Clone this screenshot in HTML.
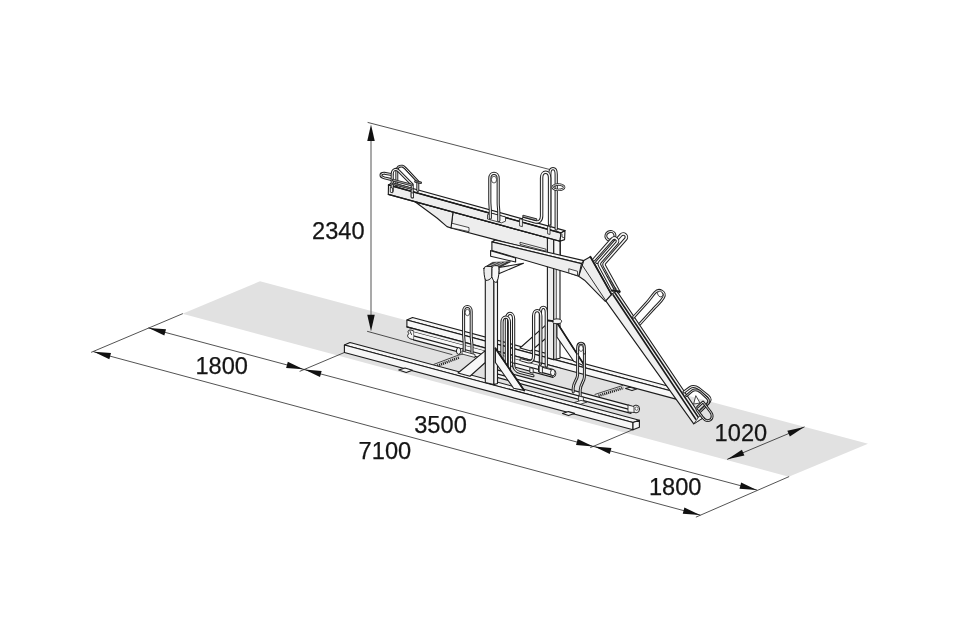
<!DOCTYPE html>
<html><head><meta charset="utf-8"><title>Bike rack dimensions</title>
<style>
html,body{margin:0;padding:0;background:#fff;}
body{width:960px;height:640px;overflow:hidden;}
svg{display:block;font-family:"Liberation Sans",sans-serif;will-change:transform;}
</style></head><body>
<svg width="960" height="640" viewBox="0 0 960 640">
<rect x="0" y="0" width="960" height="640" fill="#ffffff"/>
<polygon points="260.00,281.25 868.00,443.75 788.75,476.75 182.50,313.75" fill="#e1e1e1" stroke="none" stroke-width="0" stroke-linejoin="round" />
<polygon points="412.50,317.50 676.00,388.25 676.00,392.25 406.90,320.00" fill="#f7f7f7" stroke="#1c1c1c" stroke-width="1.12" stroke-linejoin="round" />
<polygon points="406.90,320.00 676.00,392.25 676.00,399.15 406.90,326.90" fill="#f7f7f7" stroke="#1c1c1c" stroke-width="1.12" stroke-linejoin="round" />
<polygon points="625.60,388.60 630.00,387.20 636.50,389.00 632.00,390.60" fill="#f7f7f7" stroke="#1c1c1c" stroke-width="1.1" stroke-linejoin="round" />
<polygon points="413.50,331.38 553.00,368.84 553.00,377.34 413.50,339.88" fill="#f7f7f7" stroke="#1c1c1c" stroke-width="1.12" stroke-linejoin="round" />
<line x1="413.50" y1="335.88" x2="553.00" y2="373.34" stroke="#1c1c1c" stroke-width="1.12" stroke-linecap="round" />
<polygon points="413.50,328.67 560.00,368.01 560.00,370.72 413.50,331.38" fill="#f0f0f0" stroke="none" stroke-width="0" stroke-linejoin="round" />
<line x1="406.90" y1="326.90" x2="560.00" y2="368.01" stroke="#1c1c1c" stroke-width="1.12" stroke-linecap="round" />
<path d="M413.5,331 C409,328.5 406.5,331 409,333.5 C406.5,335 407,339 413.5,339.6" fill="#f7f7f7" stroke="#1c1c1c" stroke-width="1.0" stroke-linejoin="round" stroke-linecap="round" />
<path d="M410.2,331.5 L411.5,334.5" fill="none" stroke="#1c1c1c" stroke-width="0.9" stroke-linejoin="round" stroke-linecap="round" />
<ellipse cx="553.3" cy="373.4" rx="2.6" ry="3.6" fill="#f7f7f7" stroke="#222" stroke-width="0.9"/>
<line x1="433.75" y1="364.40" x2="458.75" y2="355.00" stroke="#1c1c1c" stroke-width="0.8" stroke-linecap="round" />
<line x1="437.25" y1="365.80" x2="459.75" y2="357.30" stroke="#1e1e1e" stroke-width="2.6" stroke-dasharray="1.1 0.9"/>
<line x1="595.00" y1="394.40" x2="622.50" y2="385.60" stroke="#1c1c1c" stroke-width="0.8" stroke-linecap="round" />
<line x1="598.50" y1="395.80" x2="623.50" y2="387.90" stroke="#1e1e1e" stroke-width="2.6" stroke-dasharray="1.1 0.9"/>
<polygon points="547.40,238.00 553.75,238.00 553.75,359.60 547.40,357.90" fill="#ededed" stroke="#1c1c1c" stroke-width="1.12" stroke-linejoin="round" />
<polygon points="553.75,238.00 560.00,238.00 560.00,358.20 553.75,359.60" fill="#f7f7f7" stroke="#1c1c1c" stroke-width="1.12" stroke-linejoin="round" />
<line x1="556.25" y1="238.00" x2="556.25" y2="359.00" stroke="#1c1c1c" stroke-width="0.8" stroke-linecap="round" />
<polygon points="547.40,323.70 520.00,348.00 531.00,351.00 547.40,337.00" fill="#f7f7f7" stroke="#1c1c1c" stroke-width="1.12" stroke-linejoin="round" />
<polygon points="556.90,322.50 585.00,366.25 573.75,361.25 556.90,337.00" fill="#f7f7f7" stroke="#1c1c1c" stroke-width="1.12" stroke-linejoin="round" />
<line x1="556.90" y1="322.50" x2="585.00" y2="366.25" stroke="#1c1c1c" stroke-width="1.6" stroke-linecap="round" />
<polygon points="459.00,349.50 463.00,348.20 463.00,354.00 459.00,355.00" fill="#f7f7f7" stroke="#1c1c1c" stroke-width="0.8" stroke-linejoin="round" />
<path d="M464.2,351 L464.2,344 C464.2,340 463.6,338 463.6,334 L463.6,311.5 C463.6,304.8 471.2,304.8 471.2,311.5 L471.2,336 C471.2,340 472,342 472,346 L472,354" fill="none" stroke="#222222" stroke-width="3.0500000000000003" stroke-linejoin="round" stroke-linecap="round" />
<path d="M464.2,351 L464.2,344 C464.2,340 463.6,338 463.6,334 L463.6,311.5 C463.6,304.8 471.2,304.8 471.2,311.5 L471.2,336 C471.2,340 472,342 472,346 L472,354" fill="none" stroke="#f8f8f8" stroke-width="1.0100000000000002" stroke-linejoin="round" stroke-linecap="round" />
<ellipse cx="467.4" cy="312.5" rx="2.3" ry="3.2" fill="none" stroke="#333" stroke-width="0.8"/>
<polygon points="462.00,351.00 475.00,354.50 475.00,357.50 462.00,354.00" fill="#f7f7f7" stroke="#1c1c1c" stroke-width="0.8" stroke-linejoin="round" />
<ellipse cx="458.6" cy="351" rx="2.2" ry="3.3" fill="#f4f4f4" stroke="#222" stroke-width="1"/>
<path d="M546.3,366 L546.3,312.5 C546.3,305.6 540.4,305.6 540.4,312.5 L540.4,364" fill="none" stroke="#222222" stroke-width="3.25" stroke-linejoin="round" stroke-linecap="round" />
<path d="M546.3,366 L546.3,312.5 C546.3,305.6 540.4,305.6 540.4,312.5 L540.4,364" fill="none" stroke="#f8f8f8" stroke-width="1.21" stroke-linejoin="round" stroke-linecap="round" />
<path d="M540.8,362 L540.8,316 C540.8,308.8 533.6,308.8 533.6,316 L533.6,356 C533.6,361 531,362.5 527.5,361.6 L521,359.8" fill="none" stroke="#222222" stroke-width="3.25" stroke-linejoin="round" stroke-linecap="round" />
<path d="M540.8,362 L540.8,316 C540.8,308.8 533.6,308.8 533.6,316 L533.6,356 C533.6,361 531,362.5 527.5,361.6 L521,359.8" fill="none" stroke="#f8f8f8" stroke-width="1.21" stroke-linejoin="round" stroke-linecap="round" />
<ellipse cx="557" cy="321.3" rx="4.6" ry="2.4" fill="#f4f4f4" stroke="#2a2a2a" stroke-width="1"/>
<line x1="548.00" y1="320.50" x2="553.00" y2="321.20" stroke="#1c1c1c" stroke-width="1.8" stroke-linecap="round" />
<polygon points="497.00,369.89 631.00,405.87 631.00,413.37 497.00,377.39" fill="#f7f7f7" stroke="#1c1c1c" stroke-width="1.12" stroke-linejoin="round" />
<line x1="497.00" y1="373.89" x2="631.00" y2="409.87" stroke="#1c1c1c" stroke-width="1.12" stroke-linecap="round" />
<ellipse cx="636" cy="409" rx="3.6" ry="3.9" fill="#f4f4f4" stroke="#222" stroke-width="1"/>
<ellipse cx="636.6" cy="408.6" rx="1.5" ry="1.7" fill="#fff" stroke="#333" stroke-width="0.7"/>
<polygon points="628.00,405.00 634.00,406.60 634.00,412.50 628.00,412.00" fill="#f7f7f7" stroke="#1c1c1c" stroke-width="0.8" stroke-linejoin="round" />
<polygon points="538.60,366.20 552.60,370.00 552.60,375.40 538.60,371.60" fill="#f7f7f7" stroke="#1c1c1c" stroke-width="1.12" stroke-linejoin="round" />
<ellipse cx="552.8" cy="372.6" rx="2.3" ry="3.2" fill="#f7f7f7" stroke="#222" stroke-width="0.95"/>
<polygon points="529.80,367.60 533.20,368.50 533.20,373.20 529.80,372.30" fill="#f7f7f7" stroke="#1c1c1c" stroke-width="0.9" stroke-linejoin="round" />
<polygon points="539.20,365.60 542.40,366.50 542.40,373.20 539.20,372.30" fill="#f7f7f7" stroke="#1c1c1c" stroke-width="0.9" stroke-linejoin="round" />
<path d="M513.6,366 L513.6,319 C513.6,311.6 506.4,311.6 506.4,319 L506.4,372" fill="none" stroke="#222222" stroke-width="3.25" stroke-linejoin="round" stroke-linecap="round" />
<path d="M513.6,366 L513.6,319 C513.6,311.6 506.4,311.6 506.4,319 L506.4,372" fill="none" stroke="#f8f8f8" stroke-width="1.21" stroke-linejoin="round" stroke-linecap="round" />
<path d="M509.4,370 L509.4,322.5 C509.4,315.2 502,315.2 502,322.5 L502,366 " fill="none" stroke="#222222" stroke-width="3.25" stroke-linejoin="round" stroke-linecap="round" />
<path d="M509.4,370 L509.4,322.5 C509.4,315.2 502,315.2 502,322.5 L502,366 " fill="none" stroke="#f8f8f8" stroke-width="1.21" stroke-linejoin="round" stroke-linecap="round" />
<path d="M513.6,364 C513.6,369.6 516,371.4 520,372.4 L533,375.8" fill="none" stroke="#222222" stroke-width="3.0500000000000003" stroke-linejoin="round" stroke-linecap="round" />
<path d="M513.6,364 C513.6,369.6 516,371.4 520,372.4 L533,375.8" fill="none" stroke="#f8f8f8" stroke-width="1.0100000000000002" stroke-linejoin="round" stroke-linecap="round" />
<path d="M577.6,352 L577.6,375 C577.6,379 573.2,383 573.2,388 L573.2,392" fill="none" stroke="#222222" stroke-width="2.95" stroke-linejoin="round" stroke-linecap="round" />
<path d="M577.6,352 L577.6,375 C577.6,379 573.2,383 573.2,388 L573.2,392" fill="none" stroke="#f8f8f8" stroke-width="0.9100000000000001" stroke-linejoin="round" stroke-linecap="round" />
<path d="M584.4,352 L584.4,377 C584.4,381 580.2,385 580.2,390 L580.2,397" fill="none" stroke="#222222" stroke-width="2.95" stroke-linejoin="round" stroke-linecap="round" />
<path d="M584.4,352 L584.4,377 C584.4,381 580.2,385 580.2,390 L580.2,397" fill="none" stroke="#f8f8f8" stroke-width="0.9100000000000001" stroke-linejoin="round" stroke-linecap="round" />
<path d="M577.6,353 L577.6,348 C577.6,341.6 584.4,341.6 584.4,348 L584.4,353" fill="none" stroke="#222222" stroke-width="2.95" stroke-linejoin="round" stroke-linecap="round" />
<path d="M577.6,353 L577.6,348 C577.6,341.6 584.4,341.6 584.4,348 L584.4,353" fill="none" stroke="#f8f8f8" stroke-width="0.9100000000000001" stroke-linejoin="round" stroke-linecap="round" />
<ellipse cx="581" cy="348.4" rx="2.2" ry="3.0" fill="none" stroke="#333" stroke-width="0.8"/>
<polygon points="578.60,396.00 583.40,397.20 583.40,402.40 578.60,401.20" fill="#f7f7f7" stroke="#1c1c1c" stroke-width="0.8" stroke-linejoin="round" />
<polygon points="574.00,402.60 581.00,400.40 587.00,402.00 580.00,404.40" fill="#f7f7f7" stroke="#1c1c1c" stroke-width="0.8" stroke-linejoin="round" />
<polygon points="344.40,345.00 350.00,342.50 639.40,420.30 633.00,422.50" fill="#f6f6f6" stroke="#1c1c1c" stroke-width="1.12" stroke-linejoin="round" />
<polygon points="344.40,345.00 633.00,422.50 633.00,429.80 344.40,352.50" fill="#f6f6f6" stroke="#1c1c1c" stroke-width="1.12" stroke-linejoin="round" />
<polygon points="633.00,422.50 639.40,420.30 639.40,427.20 633.00,429.80" fill="#f6f6f6" stroke="#1c1c1c" stroke-width="1.12" stroke-linejoin="round" />
<polygon points="398.75,370.00 405.00,368.00 412.50,370.20 406.25,372.40" fill="#f6f6f6" stroke="#1c1c1c" stroke-width="1.1" stroke-linejoin="round" />
<polygon points="562.50,413.60 568.50,411.60 574.50,413.40 568.50,415.60" fill="#f6f6f6" stroke="#1c1c1c" stroke-width="1.1" stroke-linejoin="round" />
<polygon points="485.30,350.60 458.00,373.00 470.00,376.25 485.30,362.50" fill="#f7f7f7" stroke="#1c1c1c" stroke-width="1.12" stroke-linejoin="round" />
<polygon points="485.30,268.00 493.90,268.00 493.90,384.60 485.30,382.50" fill="#ededed" stroke="#1c1c1c" stroke-width="1.12" stroke-linejoin="round" />
<polygon points="493.90,268.00 497.50,268.00 497.50,383.50 493.90,384.60" fill="#f7f7f7" stroke="#1c1c1c" stroke-width="1.12" stroke-linejoin="round" />
<polygon points="495.40,348.30 524.00,390.40 513.60,388.20 495.40,362.50" fill="#f7f7f7" stroke="#1c1c1c" stroke-width="1.12" stroke-linejoin="round" />
<line x1="495.40" y1="348.30" x2="524.20" y2="390.60" stroke="#1c1c1c" stroke-width="1.8" stroke-linecap="round" />
<polygon points="605.60,300.60 611.50,294.40 616.64,290.80 702.30,418.30 693.75,423.90" fill="#f0f0f0" stroke="#1c1c1c" stroke-width="1.12" stroke-linejoin="round" />
<line x1="613.24" y1="295.00" x2="695.70" y2="419.10" stroke="#1c1c1c" stroke-width="1.7" stroke-linecap="round" />
<line x1="615.01" y1="293.00" x2="699.10" y2="418.50" stroke="#1c1c1c" stroke-width="1.5" stroke-linecap="round" />
<polygon points="693.75,423.90 702.30,418.30 702.00,414.80 699.00,416.50" fill="#f7f7f7" stroke="#1c1c1c" stroke-width="0.8" stroke-linejoin="round" />
<path d="M633.6,317.2 L646,303.5 C650,299.5 651,297 655,292.5 C659,288 666.5,292 663.5,297.5 C660,303.5 657,304.5 653,309.5 L640,323.8" fill="none" stroke="#222222" stroke-width="3.0500000000000003" stroke-linejoin="round" stroke-linecap="round" />
<path d="M633.6,317.2 L646,303.5 C650,299.5 651,297 655,292.5 C659,288 666.5,292 663.5,297.5 C660,303.5 657,304.5 653,309.5 L640,323.8" fill="none" stroke="#f8f8f8" stroke-width="1.0100000000000002" stroke-linejoin="round" stroke-linecap="round" />
<ellipse cx="660.2" cy="294" rx="2.4" ry="3.1" fill="#fff" stroke="#333" stroke-width="0.8" transform="rotate(-35 660.2 294)"/>
<path d="M684,392 L690,387.6 C693,385.6 696,386.6 699,388.6 L708,396 C711,398.6 710.6,401 708,403.4 L701,410" fill="none" stroke="#222222" stroke-width="3.0500000000000003" stroke-linejoin="round" stroke-linecap="round" />
<path d="M684,392 L690,387.6 C693,385.6 696,386.6 699,388.6 L708,396 C711,398.6 710.6,401 708,403.4 L701,410" fill="none" stroke="#f8f8f8" stroke-width="1.0100000000000002" stroke-linejoin="round" stroke-linecap="round" />
<path d="M686.6,395.6 L692,391 C695,389 698,390 700.6,392 L707,398 C709.6,400.6 709,403 706.6,405 L700,411.6" fill="none" stroke="#222222" stroke-width="2.85" stroke-linejoin="round" stroke-linecap="round" />
<path d="M686.6,395.6 L692,391 C695,389 698,390 700.6,392 L707,398 C709.6,400.6 709,403 706.6,405 L700,411.6" fill="none" stroke="#f8f8f8" stroke-width="0.81" stroke-linejoin="round" stroke-linecap="round" />
<path d="M697.6,407 L703,402 L710.6,412 C713.6,416 712,420.6 707.6,420.6 C704.6,420.6 703.6,418.6 702,416.6 L697,410" fill="none" stroke="#222222" stroke-width="2.85" stroke-linejoin="round" stroke-linecap="round" />
<path d="M697.6,407 L703,402 L710.6,412 C713.6,416 712,420.6 707.6,420.6 C704.6,420.6 703.6,418.6 702,416.6 L697,410" fill="none" stroke="#f8f8f8" stroke-width="0.81" stroke-linejoin="round" stroke-linecap="round" />
<path d="M696,396 L700,403 L694,404 Z" fill="#fff" stroke="#1c1c1c" stroke-width="0.8" stroke-linejoin="round" stroke-linecap="round" />
<polygon points="583.75,260.60 590.40,256.70 611.50,294.40 605.30,301.30 584.50,280.20 578.70,276.25" fill="#ededed" stroke="#1c1c1c" stroke-width="1.12" stroke-linejoin="round" />
<line x1="581.80" y1="264.50" x2="605.50" y2="300.20" stroke="#1c1c1c" stroke-width="0.9" stroke-linecap="round" />
<line x1="590.40" y1="256.70" x2="611.50" y2="294.40" stroke="#1c1c1c" stroke-width="1.8" stroke-linecap="round" />
<path d="M597.00,262.24 L621.02,234.94 A3.1,3.1 0 0 1 625.67,239.03 L604.95,262.58 Q603.35,264.38 604.55,266.18 L618.6,291.6" fill="none" stroke="#222222" stroke-width="3.5500000000000003" stroke-linejoin="round" stroke-linecap="round" />
<path d="M597.00,262.24 L621.02,234.94 A3.1,3.1 0 0 1 625.67,239.03 L604.95,262.58 Q603.35,264.38 604.55,266.18 L618.6,291.6" fill="none" stroke="#f8f8f8" stroke-width="1.5500000000000003" stroke-linejoin="round" stroke-linecap="round" />
<line x1="602.6" y1="270.4" x2="616.2" y2="290.6" stroke="#2a2a2a" stroke-width="2.6" stroke-dasharray="0.8 0.7"/>
<ellipse cx="610.4" cy="235.8" rx="4.6" ry="4.2" fill="none" stroke="#262626" stroke-width="3.0" transform="rotate(-30 610.4 235.8)"/>
<ellipse cx="610.4" cy="235.8" rx="4.6" ry="4.2" fill="none" stroke="#f8f8f8" stroke-width="1.0" transform="rotate(-30 610.4 235.8)"/>
<path d="M594.00,259.60 L612.15,238.98 A3.1,3.1 0 0 1 616.80,243.07 L600.30,261.82 Q598.50,263.82 599.90,265.82 L612.6,289.6" fill="none" stroke="#222222" stroke-width="3.5500000000000003" stroke-linejoin="round" stroke-linecap="round" />
<path d="M594.00,259.60 L612.15,238.98 A3.1,3.1 0 0 1 616.80,243.07 L600.30,261.82 Q598.50,263.82 599.90,265.82 L612.6,289.6" fill="none" stroke="#f8f8f8" stroke-width="1.5500000000000003" stroke-linejoin="round" stroke-linecap="round" />
<line x1="611.80" y1="290.60" x2="619.60" y2="291.60" stroke="#1c1c1c" stroke-width="2.0" stroke-linecap="round" />
<polygon points="453.00,212.06 451.00,228.00 495.00,239.60 560.00,256.50 560.00,241.26" fill="#ededed" stroke="#1c1c1c" stroke-width="1.12" stroke-linejoin="round" />
<polygon points="520.00,242.30 546.00,249.20 546.00,251.20 520.00,244.30" fill="#f7f7f7" stroke="#1c1c1c" stroke-width="0.8" stroke-linejoin="round" />
<polygon points="451.00,223.00 469.00,227.60 469.00,231.60 451.00,227.80" fill="#f7f7f7" stroke="#1c1c1c" stroke-width="0.8" stroke-linejoin="round" />
<polygon points="415.00,201.69 437.00,218.00 447.00,226.60 451.00,228.00 453.00,212.06" fill="#ededed" stroke="#1c1c1c" stroke-width="1.12" stroke-linejoin="round" />
<polygon points="547.40,237.00 553.75,238.50 553.75,258.00 547.40,256.00" fill="#ededed" stroke="#1c1c1c" stroke-width="1.12" stroke-linejoin="round" />
<polygon points="553.75,238.50 560.00,240.00 560.00,258.00 553.75,258.00" fill="#f7f7f7" stroke="#1c1c1c" stroke-width="1.12" stroke-linejoin="round" />
<polygon points="491.90,241.90 495.00,240.00 583.75,260.60 581.50,263.60" fill="#f7f7f7" stroke="#1c1c1c" stroke-width="1.12" stroke-linejoin="round" />
<polygon points="491.90,241.90 581.50,263.60 578.70,276.25 568.75,273.00 491.90,250.50" fill="#ededed" stroke="#1c1c1c" stroke-width="1.12" stroke-linejoin="round" />
<polygon points="568.75,268.75 577.50,271.25 577.50,275.60 568.75,273.00" fill="#f7f7f7" stroke="#1c1c1c" stroke-width="0.8" stroke-linejoin="round" />
<polygon points="490.60,250.60 515.60,258.00 515.60,262.00 490.60,256.25" fill="#f7f7f7" stroke="#1c1c1c" stroke-width="1.12" stroke-linejoin="round" />
<polygon points="484.20,267.60 492.60,262.40 510.50,261.80 499.20,267.60" fill="#3a3a3a" stroke="#1c1c1c" stroke-width="0.8" stroke-linejoin="round" />
<line x1="487.50" y1="266.80" x2="497.00" y2="262.60" stroke="#ddd" stroke-width="0.7" stroke-linecap="round" />
<line x1="491.50" y1="267.00" x2="501.50" y2="262.40" stroke="#ddd" stroke-width="0.7" stroke-linecap="round" />
<line x1="495.50" y1="267.00" x2="505.50" y2="262.20" stroke="#ddd" stroke-width="0.7" stroke-linecap="round" />
<polygon points="499.00,267.50 523.50,263.30 498.75,273.75" fill="#f7f7f7" stroke="#1c1c1c" stroke-width="1.12" stroke-linejoin="round" />
<path d="M483.9,268.5 C483.9,266.6 486,266.4 488,266.4 L492,266.6 L492,277 C490,279.6 488,280.6 485.6,280.4 C484.2,277 483.9,273 483.9,268.5 Z" fill="#ededed" stroke="#1c1c1c" stroke-width="1.0" stroke-linejoin="round" stroke-linecap="round" />
<path d="M492,268 C492,266 494,265.6 496,265.6 L498.8,266 C499.2,272 499,278 496.6,282.4 C494,282.6 493,280 492,277 Z" fill="#f7f7f7" stroke="#1c1c1c" stroke-width="1.0" stroke-linejoin="round" stroke-linecap="round" />
<polygon points="392.00,182.76 565.00,230.60 561.00,233.00 388.50,185.00" fill="#f7f7f7" stroke="#1c1c1c" stroke-width="1.12" stroke-linejoin="round" />
<polygon points="388.50,185.00 561.00,233.00 560.00,241.25 388.30,194.40" fill="#ededed" stroke="#1c1c1c" stroke-width="1.12" stroke-linejoin="round" />
<line x1="388.50" y1="185.00" x2="561.00" y2="233.00" stroke="#1c1c1c" stroke-width="1.5" stroke-linecap="round" />
<line x1="388.30" y1="194.40" x2="560.00" y2="241.25" stroke="#1c1c1c" stroke-width="1.2" stroke-linecap="round" />
<polygon points="561.00,233.00 565.00,230.60 564.60,239.60 560.00,241.25" fill="#f7f7f7" stroke="#1c1c1c" stroke-width="1.12" stroke-linejoin="round" />
<path d="M562,234.2 L562,237 L563.6,237.6" fill="none" stroke="#1c1c1c" stroke-width="0.8" stroke-linejoin="round" stroke-linecap="round" />
<polygon points="487.50,214.60 491.50,213.20 505.50,217.00 505.50,221.20 501.50,222.80 487.50,219.00" fill="#f7f7f7" stroke="#1c1c1c" stroke-width="0.8" stroke-linejoin="round" />
<path d="M490.3,218 L490.3,211 C490.3,207 489.8,205 489.8,201 L489.8,178.5 C489.8,171.6 498.2,171.6 498.2,178.5 L498.2,203 C498.2,207 498.8,209 498.8,213 L498.8,220.6" fill="none" stroke="#222222" stroke-width="3.1500000000000004" stroke-linejoin="round" stroke-linecap="round" />
<path d="M490.3,218 L490.3,211 C490.3,207 489.8,205 489.8,201 L489.8,178.5 C489.8,171.6 498.2,171.6 498.2,178.5 L498.2,203 C498.2,207 498.8,209 498.8,213 L498.8,220.6" fill="none" stroke="#f8f8f8" stroke-width="1.1100000000000003" stroke-linejoin="round" stroke-linecap="round" />
<ellipse cx="494" cy="179.6" rx="2.6" ry="3.4" fill="none" stroke="#333" stroke-width="0.8"/>
<path d="M556.2,229 L556.2,174.5 C556.2,166.8 549.8,166.8 549.8,174.5 L549.8,226" fill="none" stroke="#222222" stroke-width="3.25" stroke-linejoin="round" stroke-linecap="round" />
<path d="M556.2,229 L556.2,174.5 C556.2,166.8 549.8,166.8 549.8,174.5 L549.8,226" fill="none" stroke="#f8f8f8" stroke-width="1.21" stroke-linejoin="round" stroke-linecap="round" />
<path d="M549.6,224 L549.6,178 C549.6,170.4 541.6,170.4 541.6,178 L541.6,216 C541.6,221 538.6,222.8 535,221.8 L523.6,218.6" fill="none" stroke="#222222" stroke-width="3.45" stroke-linejoin="round" stroke-linecap="round" />
<path d="M549.6,224 L549.6,178 C549.6,170.4 541.6,170.4 541.6,178 L541.6,216 C541.6,221 538.6,222.8 535,221.8 L523.6,218.6" fill="none" stroke="#f8f8f8" stroke-width="1.4100000000000001" stroke-linejoin="round" stroke-linecap="round" />
<path d="M523.6,216.2 L536,219.6" fill="none" stroke="#222222" stroke-width="2.6500000000000004" stroke-linejoin="round" stroke-linecap="round" />
<path d="M523.6,216.2 L536,219.6" fill="none" stroke="#f8f8f8" stroke-width="0.6100000000000003" stroke-linejoin="round" stroke-linecap="round" />
<polygon points="519.60,218.80 522.40,219.50 522.40,226.60 519.60,225.90" fill="#f7f7f7" stroke="#1c1c1c" stroke-width="0.8" stroke-linejoin="round" />
<polygon points="547.60,226.00 550.00,226.60 550.00,234.40 547.60,233.80" fill="#f7f7f7" stroke="#1c1c1c" stroke-width="0.8" stroke-linejoin="round" />
<ellipse cx="558.4" cy="187.2" rx="5.8" ry="2.7" fill="none" stroke="#2a2a2a" stroke-width="2.4"/>
<ellipse cx="558.4" cy="187.2" rx="5.8" ry="2.7" fill="none" stroke="#f6f6f6" stroke-width="0.9"/>
<path d="M396.8,185.5 L396.8,171.6 C396.8,166.6 399.6,165.9 402.4,166.2 C403.6,166.4 404.4,167.2 405.4,168.2 L417.8,181.4 L417.8,190.4" fill="none" stroke="#222222" stroke-width="2.95" stroke-linejoin="round" stroke-linecap="round" />
<path d="M396.8,185.5 L396.8,171.6 C396.8,166.6 399.6,165.9 402.4,166.2 C403.6,166.4 404.4,167.2 405.4,168.2 L417.8,181.4 L417.8,190.4" fill="none" stroke="#f8f8f8" stroke-width="0.9100000000000001" stroke-linejoin="round" stroke-linecap="round" />
<path d="M415.4,181.5 L420.8,182.8" fill="none" stroke="#222222" stroke-width="2.45" stroke-linejoin="round" stroke-linecap="round" />
<path d="M415.4,181.5 L420.8,182.8" fill="none" stroke="#f8f8f8" stroke-width="0.41000000000000014" stroke-linejoin="round" stroke-linecap="round" />
<path d="M392.4,179.8 L384.4,177.9 C379.6,176.6 380,173.1 384.4,173.3 L392,174.6" fill="none" stroke="#222222" stroke-width="2.95" stroke-linejoin="round" stroke-linecap="round" />
<path d="M392.4,179.8 L384.4,177.9 C379.6,176.6 380,173.1 384.4,173.3 L392,174.6" fill="none" stroke="#f8f8f8" stroke-width="0.9100000000000001" stroke-linejoin="round" stroke-linecap="round" />
<path d="M392.2,191 L392.2,174 C392.2,169.6 395.6,168.2 398.4,170.6 L412.2,184.6 L412.2,197" fill="none" stroke="#222222" stroke-width="3.0500000000000003" stroke-linejoin="round" stroke-linecap="round" />
<path d="M392.2,191 L392.2,174 C392.2,169.6 395.6,168.2 398.4,170.6 L412.2,184.6 L412.2,197" fill="none" stroke="#f8f8f8" stroke-width="1.0100000000000002" stroke-linejoin="round" stroke-linecap="round" />
<path d="M393.2,180.2 L411.6,185.0" fill="none" stroke="#222222" stroke-width="2.6500000000000004" stroke-linejoin="round" stroke-linecap="round" />
<path d="M393.2,180.2 L411.6,185.0" fill="none" stroke="#f8f8f8" stroke-width="0.6100000000000003" stroke-linejoin="round" stroke-linecap="round" />
<path d="M393.2,183.8 L411.4,188.6" fill="none" stroke="#222222" stroke-width="2.45" stroke-linejoin="round" stroke-linecap="round" />
<path d="M393.2,183.8 L411.4,188.6" fill="none" stroke="#f8f8f8" stroke-width="0.41000000000000014" stroke-linejoin="round" stroke-linecap="round" />
<polygon points="390.30,187.40 392.60,188.00 392.60,192.80 390.30,192.20" fill="#f7f7f7" stroke="#1c1c1c" stroke-width="0.8" stroke-linejoin="round" />
<polygon points="411.20,192.60 413.50,193.20 413.50,198.00 411.20,197.40" fill="#f7f7f7" stroke="#1c1c1c" stroke-width="0.8" stroke-linejoin="round" />
<line x1="182.50" y1="313.75" x2="91.50" y2="352.20" stroke="#1a1a1a" stroke-width="0.75" stroke-linecap="round" />
<line x1="788.75" y1="476.75" x2="696.25" y2="517.00" stroke="#1a1a1a" stroke-width="0.75" stroke-linecap="round" />
<line x1="344.40" y1="352.50" x2="300.00" y2="371.25" stroke="#1a1a1a" stroke-width="0.75" stroke-linecap="round" />
<line x1="633.00" y1="429.60" x2="590.60" y2="447.50" stroke="#1a1a1a" stroke-width="0.75" stroke-linecap="round" />
<line x1="93.75" y1="351.75" x2="700.00" y2="515.00" stroke="#1a1a1a" stroke-width="0.75" stroke-linecap="round" />
<polygon points="93.75,351.75 111.00,353.07 109.34,359.25" fill="#111" stroke="none" stroke-width="0" stroke-linejoin="round" />
<polygon points="700.00,515.00 682.75,513.68 684.41,507.50" fill="#111" stroke="none" stroke-width="0" stroke-linejoin="round" />
<line x1="148.75" y1="328.00" x2="303.75" y2="369.40" stroke="#1a1a1a" stroke-width="0.75" stroke-linecap="round" />
<polygon points="148.75,328.00 166.00,329.32 164.34,335.50" fill="#111" stroke="none" stroke-width="0" stroke-linejoin="round" />
<polygon points="303.40,369.30 286.15,367.98 287.81,361.80" fill="#111" stroke="none" stroke-width="0" stroke-linejoin="round" />
<line x1="304.00" y1="369.50" x2="593.75" y2="446.50" stroke="#1a1a1a" stroke-width="0.75" stroke-linecap="round" />
<polygon points="304.40,369.60 321.65,370.92 319.99,377.10" fill="#111" stroke="none" stroke-width="0" stroke-linejoin="round" />
<polygon points="593.30,446.40 576.05,445.08 577.71,438.90" fill="#111" stroke="none" stroke-width="0" stroke-linejoin="round" />
<line x1="593.75" y1="446.50" x2="756.75" y2="490.00" stroke="#1a1a1a" stroke-width="0.75" stroke-linecap="round" />
<polygon points="594.20,446.60 611.45,447.92 609.79,454.10" fill="#111" stroke="none" stroke-width="0" stroke-linejoin="round" />
<polygon points="756.75,490.00 739.50,488.68 741.16,482.50" fill="#111" stroke="none" stroke-width="0" stroke-linejoin="round" />
<line x1="727.50" y1="459.25" x2="804.25" y2="427.00" stroke="#1a1a1a" stroke-width="0.75" stroke-linecap="round" />
<polygon points="727.50,459.25 741.93,449.72 744.41,455.62" fill="#111" stroke="none" stroke-width="0" stroke-linejoin="round" />
<polygon points="804.25,427.00 789.82,436.53 787.34,430.63" fill="#111" stroke="none" stroke-width="0" stroke-linejoin="round" />
<line x1="371.00" y1="130.00" x2="371.00" y2="326.00" stroke="#8c8c8c" stroke-width="1.5" stroke-linecap="round" />
<polygon points="371.00,124.40 374.75,140.90 367.25,140.90" fill="#111" stroke="none" stroke-width="0" stroke-linejoin="round" />
<polygon points="371.00,331.25 367.25,314.75 374.75,314.75" fill="#111" stroke="none" stroke-width="0" stroke-linejoin="round" />
<line x1="368.00" y1="122.50" x2="548.75" y2="169.25" stroke="#1a1a1a" stroke-width="0.75" stroke-linecap="round" />
<line x1="367.50" y1="331.40" x2="452.00" y2="354.60" stroke="#1a1a1a" stroke-width="0.75" stroke-linecap="round" />
<text x="312.00" y="238.50" font-size="24.6" textLength="52.6" lengthAdjust="spacingAndGlyphs" fill="#151515" stroke="#151515" stroke-width="0.25">2340</text>
<text x="195.40" y="373.90" font-size="24.6" textLength="52.6" lengthAdjust="spacingAndGlyphs" fill="#151515" stroke="#151515" stroke-width="0.25">1800</text>
<text x="414.20" y="433.00" font-size="24.6" textLength="52.6" lengthAdjust="spacingAndGlyphs" fill="#151515" stroke="#151515" stroke-width="0.25">3500</text>
<text x="358.60" y="459.30" font-size="24.6" textLength="52.6" lengthAdjust="spacingAndGlyphs" fill="#151515" stroke="#151515" stroke-width="0.25">7100</text>
<text x="648.90" y="495.40" font-size="24.6" textLength="52.6" lengthAdjust="spacingAndGlyphs" fill="#151515" stroke="#151515" stroke-width="0.25">1800</text>
<text x="714.60" y="440.80" font-size="24.6" textLength="52.6" lengthAdjust="spacingAndGlyphs" fill="#151515" stroke="#151515" stroke-width="0.25">1020</text>
</svg>
</body></html>
